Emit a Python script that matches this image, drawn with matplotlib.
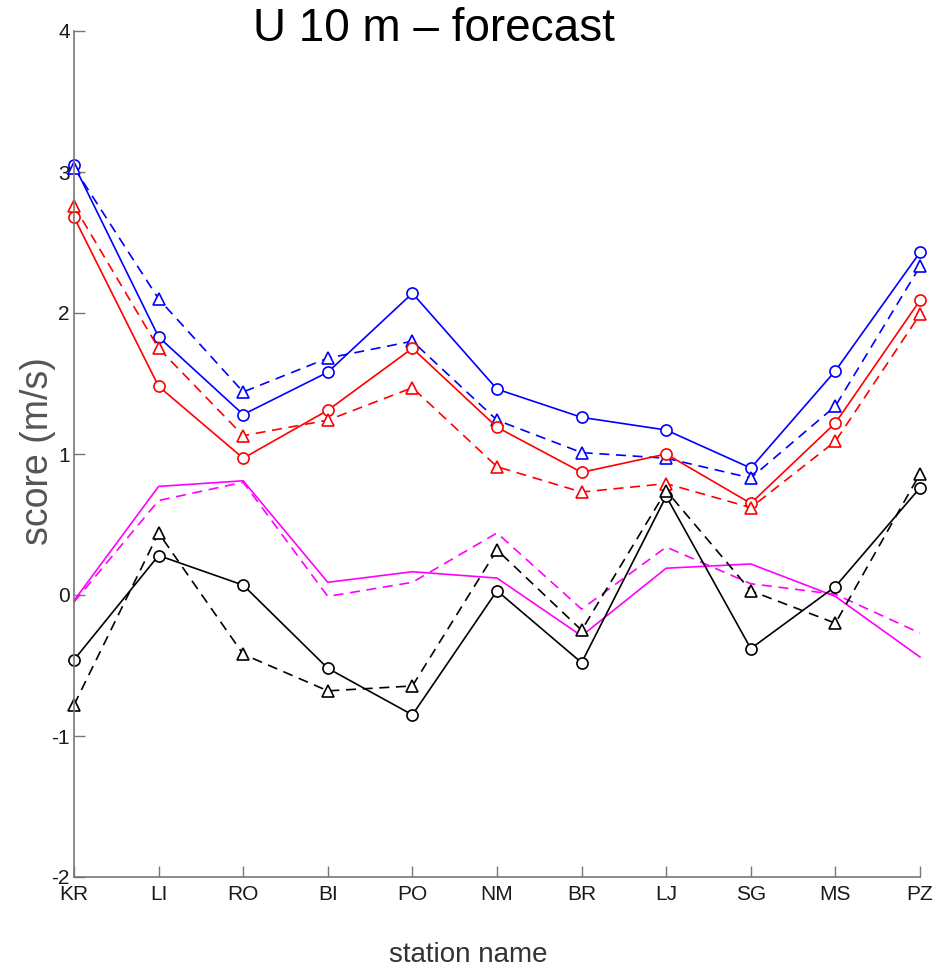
import matplotlib
matplotlib.use("Agg")
import matplotlib.pyplot as plt

stations = ["KR", "LI", "RO", "BI", "PO", "NM", "BR", "LJ", "SG", "MS", "PZ"]

blue_solid = [3.05, 1.83, 1.28, 1.58, 2.14, 1.46, 1.26, 1.17, 0.90, 1.59, 2.43]
blue_dashed = [3.03, 2.10, 1.44, 1.68, 1.80, 1.24, 1.01, 0.97, 0.83, 1.34, 2.33]
red_solid = [2.68, 1.48, 0.97, 1.31, 1.75, 1.19, 0.87, 1.00, 0.65, 1.22, 2.09]
red_dashed = [2.76, 1.75, 1.13, 1.24, 1.47, 0.91, 0.73, 0.79, 0.62, 1.09, 1.99]
magenta_solid = [-0.04, 0.77, 0.81, 0.09, 0.165, 0.12, -0.29, 0.19, 0.22, -0.01, -0.44]
magenta_dashed = [-0.05, 0.67, 0.80, -0.01, 0.09, 0.44, -0.10, 0.34, 0.08, 0.005, -0.27]
black_solid = [-0.46, 0.28, 0.07, -0.52, -0.85, 0.03, -0.48, 0.70, -0.38, 0.06, 0.76]
black_dashed = [-0.78, 0.44, -0.42, -0.68, -0.645, 0.32, -0.25, 0.74, 0.03, -0.20, 0.86]

yticks = [-2, -1, 0, 1, 2, 3, 4]

FONT = ["Liberation Sans", "DejaVu Sans"]

fig = plt.figure(figsize=(9.35, 9.73), dpi=100)
ax = fig.add_axes([74/935, 1-877/973, (920-74)/935, (877-31)/973])

x = list(range(len(stations)))
dash = (0, (6, 4))
series = [
    (blue_solid, "blue", "-", "o"),
    (blue_dashed, "blue", dash, "^"),
    (red_solid, "red", "-", "o"),
    (red_dashed, "red", dash, "^"),
    (magenta_solid, "magenta", "-", None),
    (magenta_dashed, "magenta", dash, None),
    (black_solid, "black", "-", "o"),
    (black_dashed, "black", dash, "^"),
]
for vals, col, ls, mk in series:
    ax.plot(x, vals, color=col, linestyle=ls, linewidth=1.2, marker=mk,
            markersize=8, markerfacecolor="white", markeredgecolor=col,
            markeredgewidth=1.2, clip_on=False)

ax.set_xlim(0, 10)
ax.set_ylim(-2, 4)
ax.set_xticks(x)
ax.set_xticklabels(stations, fontsize=15, family=FONT, color="#1a1a1a")
ax.set_yticks(yticks)
ax.set_yticklabels([str(v) for v in yticks], fontsize=15, family=FONT, color="#1a1a1a")
ax.tick_params(direction="in", length=8, width=1, color="#777777")
ax.tick_params(axis="x", pad=6)
ax.tick_params(axis="y", pad=3)
for s in ["top", "right"]:
    ax.spines[s].set_visible(False)
for s in ["left", "bottom"]:
    ax.spines[s].set_color("#777777")
    ax.spines[s].set_linewidth(1.2)

fig.text(434/935, 1-29/973, "U 10 m \u2013 forecast", fontsize=33, family=FONT,
         ha="center", va="center", color="black")
fig.text(38/935, 1-451/973, "score (m/s)", fontsize=27, family=FONT,
         ha="center", va="center", rotation=90, color="#555555")
fig.text(468/935, 1-955/973, "station name", fontsize=20, family=FONT,
         ha="center", va="center", color="#333333")

fig.savefig("out.png", dpi=100)
